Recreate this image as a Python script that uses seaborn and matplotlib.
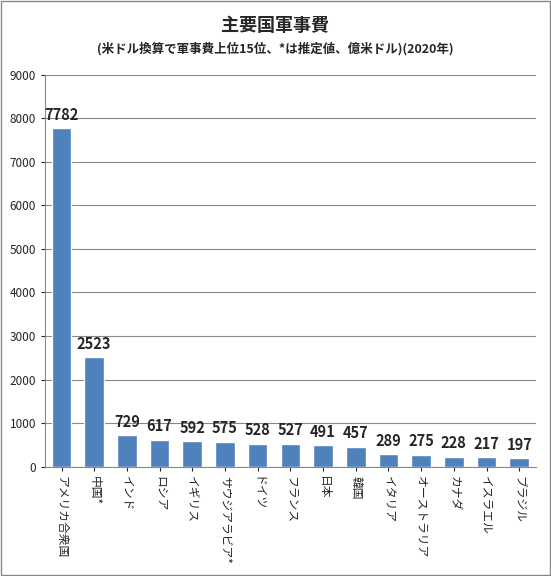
import matplotlib
matplotlib.use('Agg')
import matplotlib.pyplot as plt
import seaborn as sns
import pandas as pd

countries = ['アメリカ合衆国', '中国*', 'インド', 'ロシア', 'イギリス', 'サウジアラビア*', 'ドイツ',
             'フランス', '日本', '韓国', 'イタリア', 'オーストラリア', 'カナダ', 'イスラエル', 'ブラジル']
spending = [7782, 2523, 729, 617, 592, 575, 528, 527, 491, 457, 289, 275, 228, 217, 197]

df = pd.DataFrame({'country': countries, 'value': spending})

sns.set_style('white')
plt.rcParams['font.family'] = ['Noto Sans CJK JP', 'DejaVu Sans']

fig = plt.figure(figsize=(5.51, 5.76), dpi=100)
ax = fig.add_axes([0.082, 0.19, 0.89, 0.68])
sns.barplot(x='country', y='value', data=df, color='#4f81bd', width=0.6, ax=ax, saturation=1)

for i, v in enumerate(spending):
    ax.text(i, v + 120, str(v), ha='center', va='bottom', fontsize=10.5, fontweight='bold')

ax.set_ylim(0, 9000)
ax.set_yticks(range(0, 9001, 1000))
ax.yaxis.grid(True, color='#888888', linewidth=0.8)
ax.set_axisbelow(True)
ax.set_xlabel('')
ax.set_ylabel('')
ax.tick_params(axis='y', labelsize=8.5, length=3, left=True)
ax.tick_params(axis='x', labelsize=8.5, length=3, bottom=True)
ax.set_xticks(range(len(countries)))
ax.set_xticklabels(countries, rotation=270, va='top', ha='center')
for s in ['top', 'right']:
    ax.spines[s].set_visible(False)
for s in ['left', 'bottom']:
    ax.spines[s].set_color('#888888')

fig.text(0.5, 0.955, '主要国軍事費', ha='center', va='center', fontsize=13, fontweight='bold')
fig.text(0.5, 0.915, '(米ドル換算で軍事費上位15位、*は推定値、億米ドル)(2020年)', ha='center', va='center',
         fontsize=9, fontweight='bold')

fig.patches.append(plt.Rectangle((0.002, 0.002), 0.996, 0.996, transform=fig.transFigure,
                                 fill=False, edgecolor='#888888', linewidth=1))
fig.savefig('out.png', dpi=100)
